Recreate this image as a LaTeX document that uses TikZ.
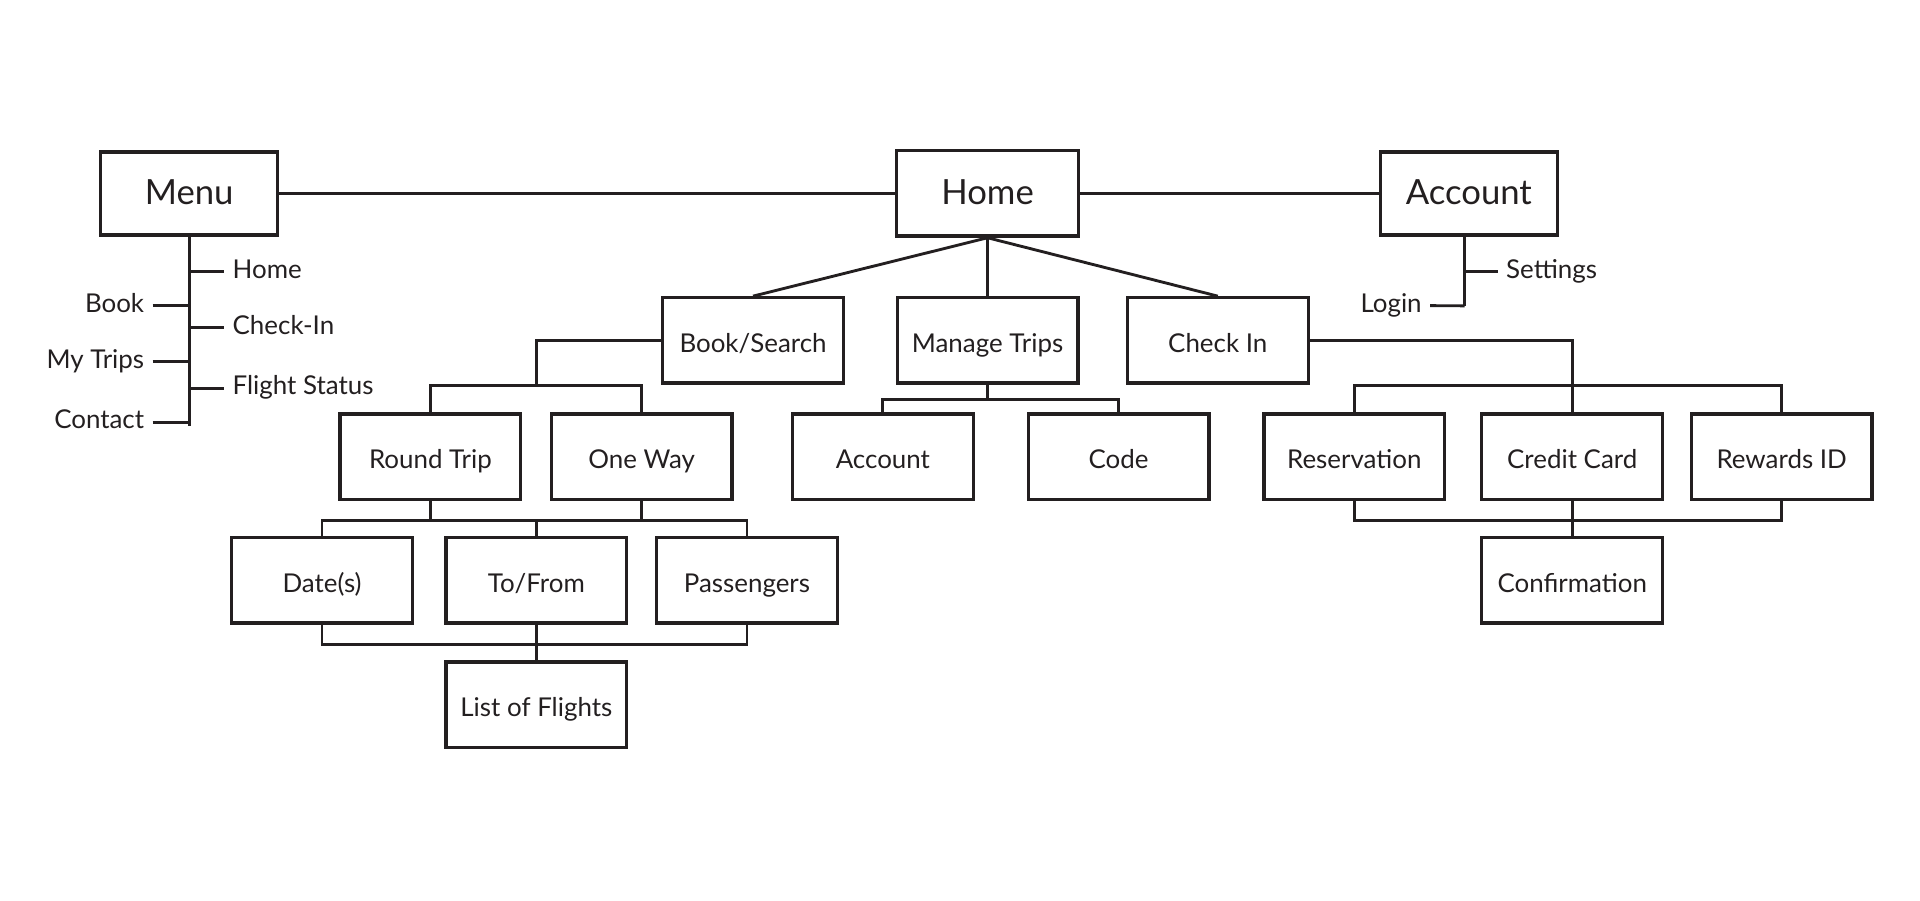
\documentclass[tikz,border=0pt]{standalone}
\usepackage{fontspec}
\setmainfont{Lato}
\definecolor{ink}{HTML}{231F20}
\tikzset{
  box/.style={draw=ink,line width=1.6pt,minimum width=88.6pt,minimum height=41.8pt,inner sep=0pt,
    text=ink,font=\fontsize{12.7}{14}\selectfont,text height=2.5ex,text depth=.2ex},
  bigbox/.style={box,minimum width=86.8pt,minimum height=40.6pt,
    font=\fontsize{17}{20}\selectfont,text height=2.25ex,text depth=.2ex},
  lbl/.style={inner sep=4pt,text=ink,font=\fontsize{12.7}{14}\selectfont,text height=1.5ex,text depth=.25ex},
  link/.style={draw=ink,line width=1.4pt}
}
\begin{document}
\begin{tikzpicture}[x=0.6pt,y=-0.6pt]
    \useasboundingbox (0,0) rectangle (1568,735);

    % top row
    \node[bigbox] (menu) at (154.5,158) {Menu};
    \node[bigbox,minimum width=89pt,minimum height=41.8pt] (home) at (806.5,158) {Home};
    \node[bigbox] (acct) at (1199.5,158) {Account};
    \draw[link] (menu.east) -- (home.west) (home.east) -- (acct.west);

    % menu list
    \draw[link] (menu.south) -- ++(0,155) coordinate (mend);
    \foreach \y/\t/\n in {221.9/Home/mhome,267.6/Check-In/mcheck,317.1/Flight Status/mstatus}{
      \node[lbl,anchor=west] (\n) at (183,\y) {\t};
      \draw[link] (154.5,\y) -- (\n.west);
    }
    \foreach \y/\t/\n in {249.6/Book/mbook,295.4/My Trips/mtrips,344.9/Contact/mcontact}{
      \node[lbl,anchor=east] (\n) at (124.7,\y) {\t};
      \draw[link] (\n.east) -- (154.5,\y);
    }

    % account list
    \node[lbl,anchor=west] (settings) at (1223,221.9) {Settings};
    \node[lbl,anchor=east] (login) at (1168,249.6) {Login};
    \draw[link] ([xshift=-2.1pt]acct.south) -- ++(0,56.6) coordinate (alog);
    \draw[link] (alog) -- (login.east);
    \draw[link] (alog |- settings.west) -- (settings.west);

    % second row
    \node[box] (book) at (615,278) {Book/Search};
    \node[box] (manage) at (806.5,278) {Manage Trips};
    \node[box] (checkin) at (994.5,278) {Check In};
    \foreach \n in {book,manage,checkin}
      \draw[link] (home.south) -- (\n.north);

    % third row
    \node[box] (round) at (351.5,373) {Round Trip};
    \node[box] (oneway) at (524,373) {One Way};
    \node[box] (acctb) at (721,373) {Account};
    \node[box] (code) at (913.5,373) {Code};
    \node[box] (reserv) at (1106,373) {Reservation};
    \node[box] (credit) at (1284,373) {Credit Card};
    \node[box] (rewards) at (1455,373) {Rewards ID};

    \draw[link] (book.west) -| ++(-102,37) coordinate (bfork);
    \draw[link] (round.north) |- (bfork) -| (oneway.north);
    \draw[link] (manage.south) -- ++(0,12) coordinate (mfork);
    \draw[link] (acctb.north) |- (mfork) -| (code.north);
    \draw[link] (checkin.east) -| (credit.north);
    \draw[link] (reserv.north) -- ++(0,-22) -| (rewards.north);

    % fourth row
    \node[box] (dates) at (263,474) {Date(s)};
    \node[box] (tofrom) at (438,474) {To/From};
    \node[box] (pass) at (610,474) {Passengers};
    \node[box] (confirm) at (1284,474) {Confirmation};

    \draw[link] (round.south) -- ++(0,16) (oneway.south) -- ++(0,16);
    \draw[link] (dates.north) -- ++(0,-13) -| (pass.north);
    \draw[link] (tofrom.north) -- ++(0,-13);
    \draw[link] (reserv.south) -- ++(0,16) -| (rewards.south);
    \draw[link] (credit.south) -- (confirm.north);

    % last row
    \node[box] (flights) at (438,575.5) {List of Flights};
    \draw[link] (dates.south) -- ++(0,16) -| (pass.south);
    \draw[link] (tofrom.south) -- (flights.north);
\end{tikzpicture}
\end{document}
